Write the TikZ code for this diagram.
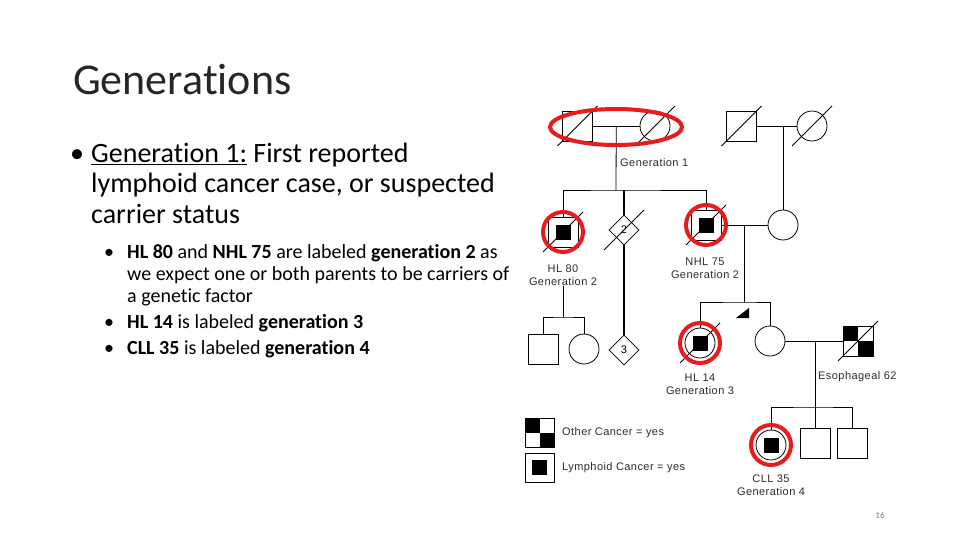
\documentclass[tikz,border=0pt]{standalone}
\usepackage{fontspec}
\setmainfont[Ligatures=NoCommon]{Carlito}
\newfontfamily\pedfont[LetterSpace=4]{Liberation Sans}
\usetikzlibrary{shapes.geometric,positioning,calc}
\definecolor{cRing}{RGB}{232,28,28}
\definecolor{cTitle}{RGB}{38,38,38}
\definecolor{cPed}{RGB}{45,45,45}
\newcommand{\deadmark}[1]{\draw[pedline] ([shift={(-20pt,-20pt)}]#1.center) -- ([shift={(20pt,20pt)}]#1.center);}
\tikzset{
  person/.style={draw=black,line width=0.8pt,inner sep=0pt,minimum size=30pt},
  malebox/.style={person,rectangle},
  femnode/.style={person,circle},
  unknode/.style={person,diamond,font=\pedfont\fontsize{11}{13}\selectfont},
  lymphcan/.style={path picture={\fill[black]
      ([shift={(-7.5pt,-7.5pt)}]path picture bounding box.center) rectangle
      ([shift={(7.5pt,7.5pt)}]path picture bounding box.center);}},
  othercan/.style={path picture={\fill[black]
      (path picture bounding box.north west) rectangle (path picture bounding box.center);
      \fill[black] (path picture bounding box.center) rectangle (path picture bounding box.south east);}},
  ring/.style={circle,draw=cRing,line width=4pt,minimum size=40pt,inner sep=0pt},
  pedline/.style={line width=0.8pt},
  sibline/.style={line width=2pt},
  pedlabel/.style={font=\pedfont\fontsize{11}{13}\selectfont,text=cPed,align=center,inner sep=0pt},
  titleline/.style={font=\fontsize{44}{48}\selectfont,text=cTitle,anchor=base west,inner sep=0pt},
  mainline/.style={font=\fontsize{28}{30}\selectfont,anchor=base west,inner sep=0pt},
  subline/.style={font=\fontsize{20}{22}\selectfont,anchor=base west,inner sep=0pt}
}
\begin{document}
\begin{tikzpicture}[x=1pt,y=-1pt]
  \fill[white] (0,0) rectangle (960,540);
  \useasboundingbox (0,0) rectangle (960,540);

  % slide text
  \node[titleline] (title) at (73,95) {Generations};
  \node[mainline] (bulA) at (70,163) {•};
  \node[mainline] (txtA1) at (91,163) {\underline{Generation 1:} First reported};
  \node[mainline] (txtA2) at (91,193) {lymphoid cancer case, or suspected};
  \node[mainline] (txtA3) at (91,223) {carrier status};
  \node[subline] (bulB) at (104,258) {•};
  \node[subline] (txtB1) at (127,258) {\textbf{HL 80} and \textbf{NHL 75} are labeled \textbf{generation 2} as};
  \node[subline] (txtB2) at (127,280) {we expect one or both parents to be carriers of};
  \node[subline] (txtB3) at (127,302) {a genetic factor};
  \node[subline] (bulC) at (104,328) {•};
  \node[subline] (txtC1) at (127,328) {\textbf{HL 14} is labeled \textbf{generation 3}};
  \node[subline] (bulD) at (104,354) {•};
  \node[subline] (txtD1) at (127,354) {\textbf{CLL 35} is labeled \textbf{generation 4}};

  % generation 1
  \node[malebox] (gfA) at (577.5,126) {};
  \node[femnode] (gmA) at (655,126) {};
  \node[malebox] (gfB) at (741.5,126) {};
  \node[femnode] (gmB) at (812,126) {};
  \draw[pedline] (gfA.east) -- (gmA.west);
  \draw[pedline] (gfB.east) -- (gmB.west);
  \coordinate (mA) at ($(gfA.east)!0.5!(gmA.west)$);
  \coordinate (sA) at (616,190);
  \node[pedlabel,anchor=west] (lblG1) at (620,163) {Generation 1};

  % generation 2
  \node[malebox,lymphcan] (hl80) at (563,232) {};
  \node[unknode] (sib2) at (624,230) {2};
  \node[malebox,lymphcan] (nhl75) at (706,225) {};
  \node[femnode] (wifeB) at (783,225) {};
  \draw[pedline] (mA) -- (sA);
  \draw[pedline] (hl80.north) |- (sA) -| (nhl75.north);
  \draw[sibline] (sib2.north |- sA) -- (sib2.north);
  \draw[pedline] (wifeB.north) -- (wifeB.north |- gfB.east);
  \draw[pedline] (nhl75.east) -- (wifeB.west);
  \node[pedlabel] (lblHL80) at (563,275) {HL 80\\Generation 2};
  \node[pedlabel] (lblNHL75) at (705,268) {NHL 75\\Generation 2};

  % generation 3
  \node[malebox] (kidC1) at (543.5,349.5) {};
  \node[femnode] (kidC2) at (584,349) {};
  \node[unknode] (sib3) at (624,350) {3};
  \coordinate (sC) at (563,317);
  \draw[pedline] (lblHL80.south) -- (sC);
  \draw[pedline] (kidC1.north) |- (sC) -| (kidC2.north);
  \draw[sibline] (sib2.south) -- (sib3.north);

  \node[femnode,lymphcan] (hl14) at (700,343) {};
  \node[femnode] (sisD) at (770,341) {};
  \node[malebox,othercan] (eso62) at (858,341) {};
  \coordinate (mD) at (744,225);
  \coordinate (sD) at (744,302);
  \draw[pedline] (mD) -- (sD);
  \draw[pedline] (hl14.north) |- (sD) -| (sisD.north);
  \fill (736,318) -- (749,318) -- (749,308) -- cycle;
  \draw[pedline] (sisD.east) -- (eso62.west);
  \node[pedlabel] (lblHL14) at (700,384) {HL 14\\Generation 3};
  \node[pedlabel,anchor=west] (lblEso) at (818,377) {Esophageal 62};

  % generation 4
  \node[femnode,lymphcan] (cll35) at (771,445) {};
  \node[malebox] (kidE2) at (815,443) {};
  \node[malebox] (kidE3) at (852,443) {};
  \coordinate (sE) at (815,407);
  \draw[pedline] (kidE2 |- sisD.east) -- (kidE2.north);
  \draw[pedline] (cll35.north) |- (sE) -| (kidE3.north);
  \node[pedlabel] (lblCLL35) at (771,485) {CLL 35\\Generation 4};

  % deceased marks
  \deadmark{gfA} \deadmark{gmA} \deadmark{gfB} \deadmark{gmB}
  \deadmark{hl80} \deadmark{sib2} \deadmark{nhl75} \deadmark{hl14} \deadmark{eso62}

  % highlights
  \node[ellipse,draw=cRing,line width=4pt,minimum width=132pt,minimum height=36pt] (rGen1) at (616,127) {};
  \node[ring] (rHL80) at (hl80.center) {};
  \node[ring] (rNHL75) at (nhl75.center) {};
  \node[ring] (rHL14) at (hl14.center) {};
  \node[ring] (rCLL35) at (cll35.center) {};

  % legend
  \node[malebox,othercan,minimum size=29pt] (legO) at (539.5,432.5) {};
  \node[pedlabel,anchor=west] (legOtxt) at (562,433) {Other Cancer = yes};
  \node[malebox,lymphcan,minimum size=29pt] (legL) at (539.5,467.5) {};
  \node[pedlabel,anchor=west] (legLtxt) at (562,468) {Lymphoid Cancer = yes};

  \node[font=\fontsize{9}{10}\selectfont,text=black!50,inner sep=0pt] (pgno) at (880,515) {16};
\end{tikzpicture}
\end{document}
